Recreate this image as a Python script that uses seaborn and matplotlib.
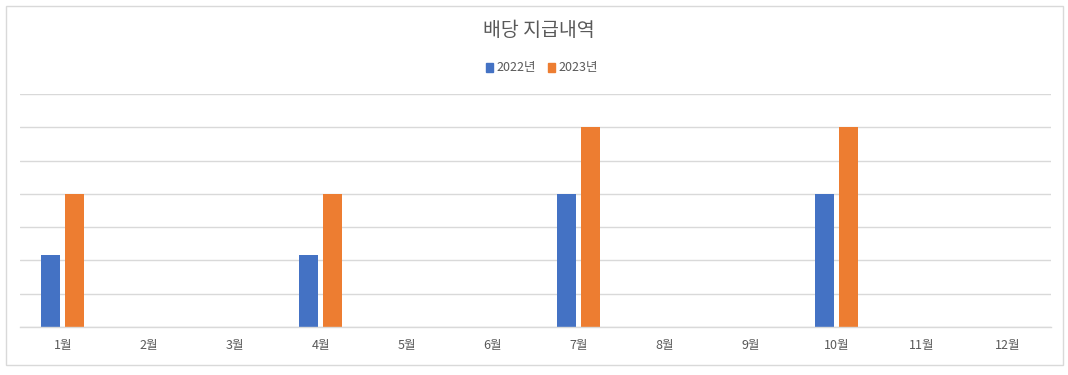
import matplotlib
matplotlib.use("Agg")
import matplotlib.pyplot as plt
import matplotlib.patches as mpatches
import seaborn as sns
import pandas as pd

months = ["1월", "2월", "3월", "4월", "5월", "6월", "7월", "8월", "9월", "10월", "11월", "12월"]
series_names = ["2022년", "2023년"]
values_2022 = [2.16, 0, 0, 2.16, 0, 0, 4, 0, 0, 4, 0, 0]
values_2023 = [4, 0, 0, 4, 0, 0, 6, 0, 0, 6, 0, 0]
colors = ["#4472C4", "#ED7D31"]

df = pd.DataFrame({
    "month": months * 2,
    "series": [series_names[0]] * 12 + [series_names[1]] * 12,
    "value": values_2022 + values_2023,
})

sns.set_theme(style="white")
plt.rcParams['font.family'] = ['Noto Sans CJK KR', 'DejaVu Sans']

W, H = 1068, 375
fig = plt.figure(figsize=(W / 100, H / 100), dpi=100)
fig.patch.set_facecolor("white")

# outer chart border
fig.add_artist(mpatches.Rectangle((6 / W, 1 - 365 / H), (1063 - 6) / W, (365 - 6) / H,
                                  transform=fig.transFigure, fill=False,
                                  edgecolor="#D9D9D9", linewidth=1))

ax = fig.add_axes([20 / W, 1 - 327 / H, (1051 - 20) / W, (327 - 94) / H])
sns.barplot(data=df, x="month", y="value", hue="series", order=months,
            hue_order=series_names, palette=colors, width=0.56, gap=0.21,
            saturation=1, linewidth=0, ax=ax, legend=False)

ax.set_ylim(0, 7)
ax.set_xlim(-0.5, 11.5)
ax.set_yticks(range(0, 8))
ax.set_yticklabels([])
ax.yaxis.grid(True, color="#D9D9D9", linewidth=1)
ax.set_axisbelow(True)
for s in ["top", "right", "left"]:
    ax.spines[s].set_visible(False)
ax.spines["bottom"].set_color("#D9D9D9")
ax.spines["bottom"].set_linewidth(1)
ax.tick_params(axis="x", length=0, pad=9, labelsize=9, labelcolor="#595959")
ax.tick_params(axis="y", length=0)
ax.set_xlabel("")
ax.set_ylabel("")

fig.text(539 / W, 1 - 31 / H, "배당 지급내역", ha="center", va="center",
         fontsize=14, color="#595959")

handles = [mpatches.Patch(color=c, label=n) for c, n in zip(colors, series_names)]
fig.legend(handles=handles, loc="center", bbox_to_anchor=(542 / W, 1 - 68 / H),
           ncol=2, frameon=False, fontsize=9, labelcolor="#595959",
           handlelength=0.5, handleheight=0.7, handletextpad=0.3, columnspacing=1.0)

fig.savefig("out.png", dpi=100, facecolor="white")
